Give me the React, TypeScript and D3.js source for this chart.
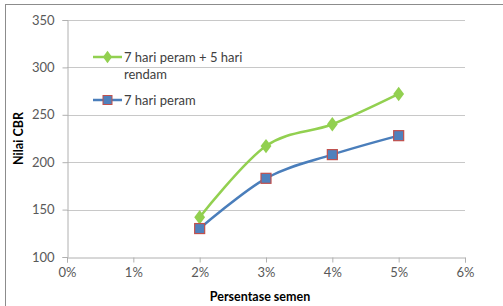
import React, { useEffect, useRef } from 'react';
import * as d3 from 'd3';

const xTicks = [0, 1, 2, 3, 4, 5, 6];
const yTicks = [100, 150, 200, 250, 300, 350];
const semen = [2, 3, 4, 5];
const rendam = [142, 217, 240, 272];
const peram = [130, 183, 208, 228];

const width = 503;
const height = 306;
const margin = { top: 20, right: 38, bottom: 49, left: 67 };
const font = 'Lato, "Open Sans", sans-serif';

export default function App() {
  const ref = useRef<SVGSVGElement>(null);

  useEffect(() => {
    const svg = d3.select(ref.current);
    svg.selectAll('*').remove();

    const x = d3.scaleLinear().domain([0, 6]).range([margin.left, width - margin.right]);
    const y = d3.scaleLinear().domain([100, 350]).range([height - margin.bottom, margin.top]);

    svg.append('rect')
      .attr('x', 5.5).attr('y', 4.5)
      .attr('width', width + 10).attr('height', height + 10)
      .attr('fill', 'white').attr('stroke', '#8c8c8c');

    // gridlines
    svg.append('g')
      .selectAll('line')
      .data(yTicks.filter(d => d > 100))
      .join('line')
      .attr('x1', x(0)).attr('x2', x(6))
      .attr('y1', d => Math.round(y(d)) + 0.5).attr('y2', d => Math.round(y(d)) + 0.5)
      .attr('stroke', '#c8c8c8');

    const yAxis = svg.append('g')
      .attr('transform', `translate(${x(0) + 0.5},0)`)
      .call(d3.axisLeft(y).tickValues(yTicks).tickSize(5).tickPadding(8));
    const xAxis = svg.append('g')
      .attr('transform', `translate(0,${Math.round(y(100)) + 0.5})`)
      .call(d3.axisBottom(x).tickValues(xTicks).tickSize(5).tickPadding(5).tickFormat(d => `${d}%`));

    [yAxis, xAxis].forEach(g => {
      g.select('.domain').attr('stroke', '#b0b0b0');
      g.selectAll('.tick line').attr('stroke', '#b0b0b0');
      g.selectAll('.tick text')
        .attr('fill', '#595959')
        .style('font-family', font)
        .style('font-size', '13px');
    });

    const line = d3.line<number>()
      .x((d, i) => x(semen[i]))
      .y(d => y(d))
      .curve(d3.curveCardinal.tension(0));

    svg.append('path').datum(rendam)
      .attr('d', line).attr('fill', 'none')
      .attr('stroke', '#92D050').attr('stroke-width', 2.5);
    svg.append('path').datum(peram)
      .attr('d', line).attr('fill', 'none')
      .attr('stroke', '#4A7EBB').attr('stroke-width', 2.5);

    const diamond = d3.symbol().type(d3.symbolDiamond).size(60);
    svg.append('g')
      .selectAll('path')
      .data(rendam)
      .join('path')
      .attr('d', diamond)
      .attr('transform', (d, i) => `translate(${x(semen[i])},${y(d)}) scale(1.3,1)`)
      .attr('fill', '#92D050');

    svg.append('g')
      .selectAll('rect')
      .data(peram)
      .join('rect')
      .attr('x', (d, i) => x(semen[i]) - 5)
      .attr('y', d => y(d) - 5)
      .attr('width', 10).attr('height', 10)
      .attr('fill', '#4F81BD').attr('stroke', '#C0504D').attr('stroke-width', 1.2);

    // legend
    const lg = svg.append('g');
    lg.append('line').attr('x1', 93).attr('x2', 122).attr('y1', 57).attr('y2', 57)
      .attr('stroke', '#92D050').attr('stroke-width', 2.5);
    lg.append('path').attr('d', diamond)
      .attr('transform', 'translate(107.5,57) scale(1.1,0.85)').attr('fill', '#92D050');
    lg.append('text').attr('x', 124).attr('y', 61.5)
      .style('font-family', font).style('font-size', '13px').attr('fill', '#404040')
      .text('7 hari peram + 5 hari');
    lg.append('text').attr('x', 124).attr('y', 78.5)
      .style('font-family', font).style('font-size', '13px').attr('fill', '#404040')
      .text('rendam');
    lg.append('line').attr('x1', 93).attr('x2', 122).attr('y1', 100).attr('y2', 100)
      .attr('stroke', '#4A7EBB').attr('stroke-width', 2.5);
    lg.append('rect').attr('x', 103).attr('y', 95.5).attr('width', 9).attr('height', 9)
      .attr('fill', '#4F81BD').attr('stroke', '#C0504D');
    lg.append('text').attr('x', 124).attr('y', 104.5)
      .style('font-family', font).style('font-size', '13px').attr('fill', '#404040')
      .text('7 hari peram');

    svg.append('text')
      .attr('transform', `translate(23,${(y(100) + y(350)) / 2}) rotate(-90)`)
      .attr('text-anchor', 'middle')
      .style('font-family', font).style('font-size', '12.5px').style('font-weight', 'bold')
      .attr('fill', '#000')
      .text('Nilai CBR');

    svg.append('text')
      .attr('x', 260).attr('y', 301)
      .attr('text-anchor', 'middle')
      .style('font-family', font).style('font-size', '12.5px').style('font-weight', 'bold')
      .attr('fill', '#000')
      .text('Persentase semen');
  }, []);

  return (
    <svg
      ref={ref}
      width={width}
      height={height}
      style={{ position: 'absolute', left: 0, top: 0, display: 'block', background: 'white' }}
    />
  );
}
